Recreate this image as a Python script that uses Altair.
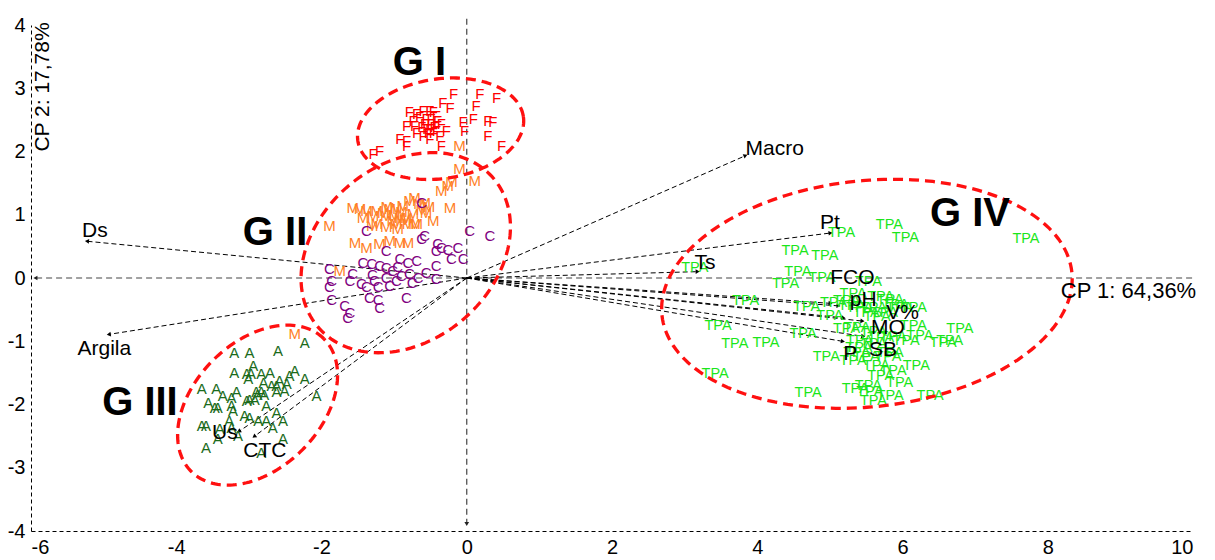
import math
import altair as alt
import numpy as np
import pandas as pd

FONT = "Liberation Sans"
W, H = 1162, 506
X_DOMAIN = [-6, 10]
Y_DOMAIN = [-4, 4]
X_TICKS = [-6, -4, -2, 0, 2, 4, 6, 8, 10]
Y_TICKS = [-4, -3, -2, -1, 0, 1, 2, 3, 4]

# ---- sample scores (CP1, CP2) ----
F_pts = [(-0.18, 2.91), (0.18, 2.91), (0.41, 2.84), (-0.33, 2.77), (0.13, 2.72), (-0.23, 2.69),
         (-0.79, 2.62), (-0.69, 2.59), (-0.60, 2.64), (-0.51, 2.64), (-0.46, 2.62), (-0.42, 2.56),
         (-0.65, 2.54), (-0.56, 2.51), (-0.49, 2.51), (-0.40, 2.48), (-0.74, 2.48), (-0.83, 2.41),
         (-0.72, 2.41), (-0.58, 2.43), (-0.49, 2.43), (-0.42, 2.41), (-0.35, 2.43), (-0.28, 2.33),
         (-0.05, 2.46), (0.09, 2.51), (0.29, 2.48), (0.36, 2.46), (-0.92, 2.19), (-0.83, 2.17),
         (-0.83, 2.09), (-0.69, 2.30), (-0.60, 2.25), (-0.51, 2.19), (-0.46, 2.30), (-0.37, 2.25),
         (-0.51, 2.35), (-0.42, 2.33), (-0.35, 2.09), (-0.03, 2.33), (0.29, 2.25), (0.48, 2.09),
         (-1.29, 1.96), (-1.20, 2.01), (-0.53, 2.30), (-0.62, 2.38), (-0.55, 2.36), (-0.45, 2.38)]

M_pts = [(-0.10, 2.09), (-0.10, 1.72), (0.11, 1.53), (-0.35, 1.38), (-0.26, 1.46), (-0.21, 1.51),
         (-0.23, 1.11), (-1.89, 0.82), (-1.57, 1.11), (-1.47, 1.09), (-1.38, 1.06), (-1.24, 1.06),
         (-1.15, 1.03), (-1.06, 1.09), (-0.97, 1.11), (-0.88, 1.14), (-0.79, 1.22), (-0.72, 1.27),
         (-0.65, 1.17), (-0.58, 1.19), (-0.56, 1.03), (-0.46, 0.90), (-0.74, 1.01), (-0.83, 0.95),
         (-0.92, 0.95), (-1.02, 0.90), (-1.11, 0.98), (-1.29, 0.98), (-1.43, 0.95), (-0.69, 0.85),
         (-0.81, 0.85), (-1.54, 0.56), (-1.38, 0.48), (-1.20, 0.53), (-1.06, 0.59), (-0.92, 0.56),
         (-0.81, 0.56), (-1.24, 0.85), (-1.11, 0.80), (-0.97, 0.85), (-0.72, 0.85), (-1.75, 0.11),
         (-2.37, -0.89), (-1.00, 1.00), (-0.90, 1.05), (-1.10, 1.12), (-0.85, 0.92), (-0.95, 0.78),
         (-1.30, 0.82), (-0.62, 1.08), (-0.52, 1.12)]

C_pts = [(-0.62, 1.19), (-1.38, 0.74), (-1.11, 0.43), (-0.62, 0.61), (-0.58, 0.66), (-0.40, 0.53),
         (-0.42, 0.43), (-0.35, 0.48), (-0.26, 0.45), (-0.12, 0.48), (-0.21, 0.30), (-0.05, 0.30),
         (0.04, 0.74), (0.32, 0.66), (-0.92, 0.30), (-0.81, 0.24), (-0.69, 0.27), (-0.42, 0.19),
         (-0.56, 0.08), (-0.42, -0.02), (-1.43, 0.24), (-1.31, 0.22), (-1.20, 0.19), (-1.11, 0.16),
         (-1.02, 0.11), (-0.90, 0.03), (-0.79, 0.06), (-0.67, 0.00), (-1.89, 0.14), (-1.86, -0.05),
         (-1.89, -0.15), (-1.86, -0.34), (-1.61, -0.05), (-1.45, -0.10), (-1.27, -0.05), (-1.22, -0.15),
         (-1.06, -0.13), (-0.97, -0.05), (-1.34, -0.31), (-1.22, -0.34), (-1.20, -0.47), (-1.68, -0.44),
         (-1.61, -0.55), (-1.64, -0.63), (-0.83, -0.31), (-1.57, 0.06), (-1.11, 0.00), (-1.38, -0.15),
         (-0.95, 0.18), (-0.75, -0.08), (-1.30, 0.05)]

A_pts = [(-2.23, -1.02), (-2.60, -1.15), (-2.99, -1.18), (-3.20, -1.18), (-2.94, -1.39), (-2.37, -1.47),
         (-3.20, -1.50), (-3.03, -1.51), (-2.97, -1.51), (-2.83, -1.52), (-2.71, -1.50), (-2.44, -1.55),
         (-2.23, -1.60), (-3.01, -1.60), (-2.58, -1.63), (-2.80, -1.66), (-2.48, -1.68), (-2.69, -1.71),
         (-2.62, -1.70), (-3.65, -1.76), (-3.45, -1.76), (-3.17, -1.81), (-3.36, -1.87), (-3.24, -1.89),
         (-2.90, -1.80), (-2.83, -1.80), (-2.88, -1.85), (-2.79, -1.85), (-2.99, -1.93), (-2.92, -1.93),
         (-2.62, -1.81), (-2.51, -1.79), (-2.07, -1.87), (-3.56, -1.97), (-3.43, -2.06), (-3.47, -2.06),
         (-3.24, -2.03), (-3.22, -2.10), (-3.03, -1.95), (-2.76, -2.03), (-3.06, -2.18), (-2.99, -2.21),
         (-2.87, -2.26), (-2.76, -2.26), (-2.62, -2.13), (-2.53, -2.26), (-2.67, -2.37), (-3.65, -2.34),
         (-3.59, -2.34), (-3.27, -2.26), (-3.24, -2.37), (-3.40, -2.39), (-3.15, -2.50), (-3.43, -2.55),
         (-2.53, -2.55), (-3.59, -2.69), (-2.83, -2.76)]

TPA_pts = [(5.16, 0.71), (5.82, 0.84), (6.04, 0.64), (7.70, 0.61), (4.52, 0.42), (4.93, 0.34),
           (3.14, 0.16), (4.56, 0.10), (4.89, 0.00), (4.39, -0.09), (5.53, -0.07), (5.32, -0.25),
           (3.84, -0.36), (4.68, -0.46), (5.05, -0.39), (5.23, -0.36), (5.41, -0.47), (5.60, -0.47),
           (5.83, -0.34), (5.96, -0.47), (6.15, -0.47), (5.00, -0.60), (3.46, -0.76), (4.63, -0.89),
           (5.23, -0.81), (5.37, -0.79), (6.15, -0.76), (6.79, -0.80), (6.24, -0.92), (6.56, -1.02),
           (6.65, -0.99), (5.87, -0.94), (6.05, -0.99), (3.69, -1.05), (4.12, -1.02), (5.41, -1.00),
           (5.60, -1.05), (5.83, -1.18), (5.37, -1.18), (4.95, -1.25), (5.32, -1.31), (5.64, -1.39),
           (5.87, -1.47), (6.19, -1.39), (3.42, -1.51), (5.53, -1.71), (5.96, -1.66), (5.60, -1.95),
           (5.83, -1.87), (6.38, -1.87), (4.70, -1.82), (5.70, -0.30), (5.90, -0.42), (5.75, -0.55),
           (5.65, -0.62), (5.50, -0.55), (5.30, -0.45), (5.60, -0.85), (5.70, -0.95), (5.40, -1.10),
           (5.50, -1.25), (5.80, -1.25), (5.70, -1.55), (5.55, -1.80), (5.35, -1.75)]

GROUPS = ["F", "M", "C", "A", "TPA"]
GROUP_COLORS = ["#ff0000", "#ff7f27", "#800080", "#1b6b1b", "#1be61b"]

# ---- variable loadings (arrows) ----
VAR_NAMES = ["Macro", "Ds", "Argila", "Us", "CTC", "Pt", "Ts", "FCO", "pH", "V%", "MO", "SB", "P"]
VAR_END_X = [3.83, -5.22, -4.92, -3.13, -2.92, 5.00, 3.17, 5.00, 5.11, 5.44, 5.18, 5.45, 5.17]
VAR_END_Y = [1.93, 0.58, -0.89, -2.42, -2.50, 0.71, 0.10, -0.40, -0.44, -0.68, -0.63, -0.92, -1.00]
VAR_LAB_X = [4.24, -5.12, -4.99, -3.33, -2.78, 5.00, 3.28, 5.31, 5.46, 6.00, 5.80, 5.73, 5.28]
VAR_LAB_Y = [2.04, 0.74, -1.12, -2.45, -2.74, 0.87, 0.24, 0.00, -0.35, -0.55, -0.79, -1.14, -1.20]

# ---- group ellipses: centre and two conjugate semi-diameters ----
ELL_NAMES = ["G I", "G II", "G III", "G IV"]
ELL_CX = [-0.36, -0.84, -2.88, 5.51]
ELL_CY = [2.36, 0.40, -2.01, -0.25]
ELL_UX = [1.14, 1.213, 0.913, 2.822]
ELL_UY = [0.19, 1.169, 1.049, 0.340]
ELL_VX = [-0.098, -0.779, -0.616, -0.163]
ELL_VY = [0.78, 1.066, 0.707, 1.778]
GROUP_LAB_X = [-0.65, -2.64, -4.50, 6.93]
GROUP_LAB_Y = [3.40, 0.71, -1.98, 1.01]

# ---- data frames ----
rows = []
for g, pts in zip(GROUPS, [F_pts, M_pts, C_pts, A_pts, TPA_pts]):
    for (px, py) in pts:
        rows.append({"x": px, "y": py, "label": g, "grp": g})
pts_df = pd.DataFrame(rows)
letters_df = pts_df[pts_df["grp"] != "TPA"]
tpa_df = pts_df[pts_df["grp"] == "TPA"]

kx = W / (X_DOMAIN[1] - X_DOMAIN[0])
ky = H / (Y_DOMAIN[1] - Y_DOMAIN[0])


def head_angle(dx, dy):
    th = math.degrees(math.atan2(dy * ky, dx * kx))
    return (90 - th) % 360


arr_df = pd.DataFrame({
    "name": VAR_NAMES, "x0": 0.0, "y0": 0.0,
    "ex": VAR_END_X, "ey": VAR_END_Y,
    "lx": VAR_LAB_X, "ly": VAR_LAB_Y,
})
arr_df["ang"] = [head_angle(a, b) for a, b in zip(VAR_END_X, VAR_END_Y)]

zero_df = pd.DataFrame({"x": [-5.93, 0.0], "y": [0.0, 4.1], "x2": [10.0, 0.0], "y2": [0.0, -3.88]})
zero_heads = pd.DataFrame({"x": [-5.93, 0.0], "y": [0.0, -3.88],
                           "ang": [head_angle(-1, 0), head_angle(0, -1)]})

t = np.linspace(0, 2 * np.pi, 181)
erows = []
for i, n in enumerate(ELL_NAMES):
    ex = ELL_CX[i] + ELL_UX[i] * np.cos(t) + ELL_VX[i] * np.sin(t)
    ey = ELL_CY[i] + ELL_UY[i] * np.cos(t) + ELL_VY[i] * np.sin(t)
    for j in range(len(t)):
        erows.append({"g": n, "i": j, "x": float(ex[j]), "y": float(ey[j])})
ell_df = pd.DataFrame(erows)

glab_df = pd.DataFrame({"x": GROUP_LAB_X, "y": GROUP_LAB_Y, "t": ELL_NAMES})
cp1_df = pd.DataFrame({"x": [8.18], "y": [-0.21], "t": ["CP 1: 64,36%"]})
cp2_df = pd.DataFrame({"x": [-5.83], "y": [3.02], "t": ["CP 2: 17,78%"]})

# ---- scales / axes ----
xs = alt.Scale(domain=X_DOMAIN, nice=False, zero=False)
ys = alt.Scale(domain=Y_DOMAIN, nice=False, zero=False)
xaxis = alt.Axis(values=X_TICKS, title=None, grid=False, ticks=False, domainDash=[4, 3],
                 domainColor="black", domainWidth=1, labelFontSize=20, labelFont=FONT,
                 labelColor="black", labelPadding=6, labelExpr="'' + datum.value")
yaxis = alt.Axis(values=Y_TICKS, title=None, grid=False, ticks=False, domainDash=[4, 3],
                 domainColor="black", domainWidth=1, labelFontSize=20, labelFont=FONT,
                 labelColor="black", labelPadding=6, labelExpr="'' + datum.value")


def X(f):
    return alt.X(f, type="quantitative", scale=xs, axis=xaxis)


def Y(f):
    return alt.Y(f, type="quantitative", scale=ys, axis=yaxis)


color_enc = alt.Color("grp:N", scale=alt.Scale(domain=GROUPS, range=GROUP_COLORS), legend=None)

zero_lines = alt.Chart(zero_df).mark_rule(strokeDash=[6, 4], color="#444444", strokeWidth=1.2).encode(
    x=X("x"), y=Y("y"), x2="x2", y2="y2")
zero_arrow = alt.Chart(zero_heads).mark_point(shape="triangle", filled=True, color="#222222",
                                               size=22, opacity=1).encode(
    x=X("x"), y=Y("y"), angle=alt.Angle("ang:Q", scale=None))

arrows = alt.Chart(arr_df).mark_rule(strokeDash=[5, 3], color="black", strokeWidth=1).encode(
    x=X("x0"), y=Y("y0"), x2="ex", y2="ey")
heads = alt.Chart(arr_df).mark_point(shape="triangle", filled=True, color="black",
                                     size=22, opacity=1).encode(
    x=X("ex"), y=Y("ey"), angle=alt.Angle("ang:Q", scale=None))

letters = alt.Chart(letters_df).mark_text(fontSize=15, font=FONT).encode(
    x=X("x"), y=Y("y"), text="label:N", color=color_enc)
tpa = alt.Chart(tpa_df).mark_text(fontSize=14.5, font=FONT).encode(
    x=X("x"), y=Y("y"), text="label:N", color=color_enc)

ellipses = alt.Chart(ell_df).mark_line(strokeDash=[10, 6], strokeWidth=3.3, color="#ff1010").encode(
    x=X("x"), y=Y("y"), detail="g:N", order="i:Q")

var_labels = alt.Chart(arr_df).mark_text(fontSize=21, font=FONT, color="black").encode(
    x=X("lx"), y=Y("ly"), text="name:N")

group_labels = alt.Chart(glab_df).mark_text(fontSize=40, font=FONT, fontWeight="bold",
                                            color="black").encode(
    x=X("x"), y=Y("y"), text="t:N")

cp1 = alt.Chart(cp1_df).mark_text(fontSize=22, font=FONT, align="left", color="black").encode(
    x=X("x"), y=Y("y"), text="t:N")
cp2 = alt.Chart(cp2_df).mark_text(fontSize=21, font=FONT, angle=270, color="black").encode(
    x=X("x"), y=Y("y"), text="t:N")

chart = alt.layer(
    zero_lines, zero_arrow, arrows, heads, letters, tpa, ellipses, var_labels, group_labels, cp1, cp2
).properties(
    width=W, height=H,
    padding={"left": 23, "top": 17, "right": 12, "bottom": 25},
    autosize=alt.AutoSizeParams(type="none"),
).configure_view(stroke=None)

chart.save("out.html", embed_options={"renderer": "svg", "actions": False})
